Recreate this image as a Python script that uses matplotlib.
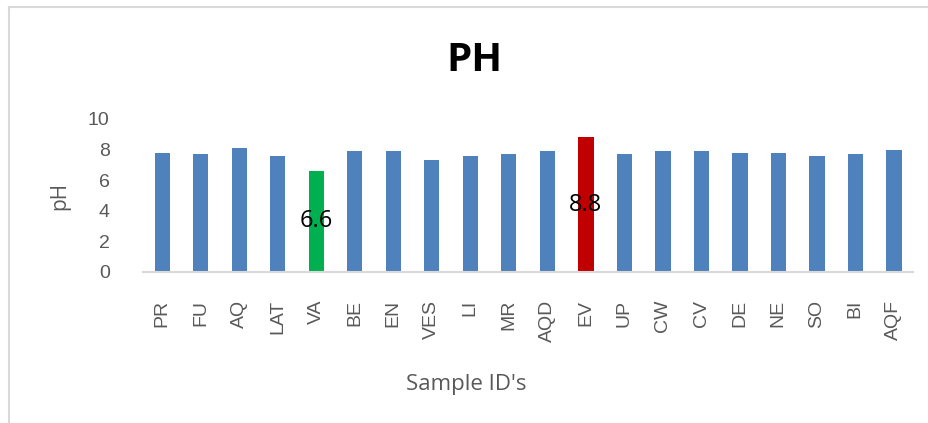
import numpy as np
import matplotlib.pyplot as plt

# Datos
muestras = ["PR", "FU", "AQ", "LAT", "VA", "BE", "EN", "VES", "LI", "MR",
            "AQD", "EV", "UP", "CW", "CV", "DE", "NE", "SO", "BI", "AQF"]
ph = [7.8, 7.7, 8.1, 7.6, 6.6, 7.9, 7.9, 7.3, 7.6, 7.7,
      7.9, 8.8, 7.7, 7.9, 7.9, 7.8, 7.8, 7.6, 7.7, 8.0]
destacados = {"VA": "#00B050", "EV": "#C00000"}

colores = [destacados.get(m, "#4F81BD") for m in muestras]
gris = "#595959"

fig = plt.figure(figsize=(9.29, 4.23), dpi=100)
ax = fig.add_axes([0.1539, 0.357, 0.829, 0.3617])

x = np.arange(len(muestras))
barras = ax.bar(x, ph, width=0.4, color=colores)

# Etiquetas en el centro de las barras destacadas
for xi, v, m in zip(x, ph, muestras):
    if m in destacados:
        ax.text(xi, v / 2, f"{v}", ha="center", va="center",
                fontsize=17, color="black", family="Open Sans")

ax.set_xlim(-0.5, len(muestras) - 0.5)
ax.set_ylim(0, 10)
ax.set_yticks([0, 2, 4, 6, 8, 10])
ax.set_xticks(x)
ax.set_xticklabels(muestras, rotation=90, fontsize=14, color=gris,
                   family="Liberation Sans")
for t in ax.get_yticklabels():
    t.set_fontsize(14)
    t.set_color(gris)
    t.set_family("Liberation Sans")
ax.tick_params(length=0)
ax.tick_params(axis="x", pad=20)
ax.tick_params(axis="y", pad=24)

for lado in ["top", "right", "left"]:
    ax.spines[lado].set_visible(False)
ax.spines["bottom"].set_color("#D9D9D9")
ax.spines["bottom"].set_linewidth(1.5)

ax.set_ylabel("pH", fontsize=15, color=gris, family="Open Sans")
ax.yaxis.set_label_coords(-0.095, 0.5)
ax.set_xlabel("Sample ID's", fontsize=16, color=gris, family="Open Sans")
ax.xaxis.set_label_coords(0.42, -0.67)
fig.text(0.511, 0.858, "PH", ha="center", va="center", fontsize=29,
         fontweight="bold", family="Open Sans")

# Borde del area del grafico y texto recortado del documento
fig.add_artist(plt.Line2D([9 / 929, 9 / 929], [0, 1 - 7 / 423],
                          color="#D9D9D9", linewidth=1.5))
fig.add_artist(plt.Line2D([9 / 929, 1], [1 - 7 / 423, 1 - 7 / 423],
                          color="#D9D9D9", linewidth=1.5))
fig.text(-10 / 929, 1 + 5 / 423, "nt range.", ha="left", va="baseline",
         fontsize=16, family="Liberation Serif")

fig.savefig("out.png", dpi=100)
